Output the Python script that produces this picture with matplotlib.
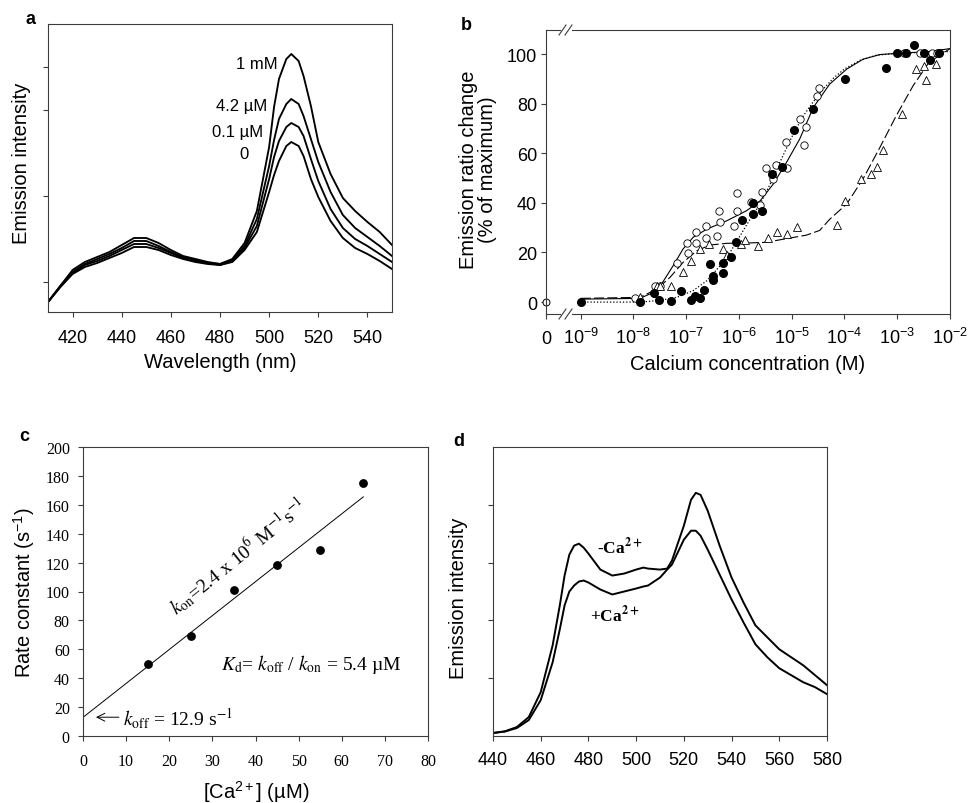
import numpy as np
import matplotlib
matplotlib.use("Agg")
import matplotlib.pyplot as plt
from matplotlib.lines import Line2D

W, H = 976, 804

# ---------------- panel a: emission spectra at several [Ca2+]
A_WL = [410, 415, 420, 425, 430, 435, 440, 445, 450, 455, 460, 465, 470, 475, 480,
        485, 490, 495, 500, 502, 504, 507, 509, 512, 514, 517, 520, 525, 530, 535,
        540, 545, 550]
A_CA_0 = [10, 25, 38, 45, 49, 54, 59, 65, 65, 62, 57, 53, 50, 48, 47,
          50, 62, 80, 120, 137, 151, 166, 170, 166, 156, 133, 115, 91, 74, 64,
          58, 51, 43]
A_CA_01UM = [10, 25, 39, 47, 51, 56, 62, 68, 68, 64, 59, 54, 51, 49, 47,
             51, 64, 86, 133, 155, 171, 185, 189, 185, 176, 153, 131, 103, 84, 73,
             66, 58, 50]
A_CA_42UM = [10, 26, 40, 48, 53, 58, 64, 71, 71, 66, 60, 55, 52, 49, 48,
             52, 66, 93, 146, 172, 193, 208, 213, 208, 196, 173, 150, 120, 97, 84,
             75, 66, 56]
A_CA_1MM = [10, 26, 42, 50, 55, 60, 67, 74, 74, 69, 62, 56, 53, 50, 48,
            53, 69, 101, 165, 205, 233, 253, 258, 251, 236, 206, 170, 138, 114, 101,
            90, 80, 67]
A_LABELS = ["0", "0.1 µM", "4.2 µM", "1 mM"]
A_LABEL_POS = [(491.8, 159), (497.5, 181), (499.1, 207), (503.6, 249)]
A_XTICKS = [420, 440, 460, 480, 500, 520, 540]
A_YTICKS = [30, 116, 202, 245]

# ---------------- panel b: titration (log10 of molar Ca2+)
B_XTICK_EXP = [-9, -8, -7, -6, -5, -4, -3, -2]
B_OPEN_LOGC = [-7.97, -7.59, -7.50, -7.18, -6.99, -6.97, -6.82, -6.82, -6.63, -6.63,
               -6.42, -6.37, -6.36, -6.03, -6.04, -6.10, -5.77, -5.57, -5.60, -5.49,
               -5.29, -5.35, -5.10, -5.09, -4.85, -4.77, -4.73, -4.52, -4.48, -2.87,
               -2.57, -2.34, -2.25]
B_OPEN_PCT = [1.5, 6.6, 6.6, 15.7, 23.8, 19.6, 28.1, 23.8, 30.8, 25.8,
              26.5, 36.8, 32.4, 43.9, 36.8, 30.8, 40.2, 44.5, 39.0, 54.0,
              55.2, 49.6, 64.6, 53.9, 73.7, 63.3, 70.4, 83.2, 86.5, 100.3,
              100.3, 100.3, 100.3]
B_OPEN_AT_ZERO = [0.0]
B_FILL_LOGC = [-9.0, -7.88, -7.62, -7.52, -7.28, -7.09, -6.90, -6.84, -6.74, -6.67,
               -6.54, -6.50, -6.49, -6.30, -6.30, -6.15, -6.06, -5.95, -5.73, -5.73,
               -5.56, -5.38, -5.19, -4.96, -4.59, -3.99, -3.22, -3.00, -2.83, -2.69,
               -2.50, -2.38, -2.21]
B_FILL_PCT = [0.1, 0.1, 3.6, 0.8, 0.5, 4.6, 0.8, 2.5, 1.5, 5.0,
              15.3, 10.4, 9.0, 15.7, 11.6, 18.3, 24.3, 33.2, 39.9, 35.7,
              36.8, 51.6, 54.3, 69.2, 77.8, 90.1, 94.3, 100.3, 100.3, 103.6,
              100.3, 97.5, 100.3]
B_TRI_LOGC = [-7.88, -7.55, -7.50, -7.28, -7.07, -6.90, -6.74, -6.56, -6.30, -6.23,
              -5.96, -5.89, -5.64, -5.45, -5.28, -5.09, -4.90, -4.15, -3.99, -3.69,
              -3.50, -3.38, -3.27, -2.91, -2.65, -2.49, -2.45, -2.26]
B_TRI_PCT = [1.9, 6.6, 6.6, 6.3, 12.2, 16.6, 21.6, 23.4, 21.6, 18.9,
             23.4, 25.1, 22.7, 25.7, 28.3, 27.4, 30.3, 31.0, 40.8, 49.6,
             51.6, 54.5, 61.3, 75.8, 93.9, 95.2, 89.5, 95.9]
B_FIT_SOLID_LOGC = [-9.0, -7.88, -7.62, -7.44, -7.25, -7.06, -6.87, -6.61, -6.23, -5.86,
                    -5.60, -5.35, -5.10, -4.85, -4.59, -4.28, -3.96, -3.65, -3.33, -3.00,
                    -2.40, -2.00]
B_FIT_SOLID_PCT = [1.2, 1.5, 3.9, 8.2, 14.6, 21.4, 26.1, 29.4, 32.8, 36.8,
                   40.8, 47.6, 56.3, 65.7, 78.5, 87.9, 93.9, 97.9, 99.8, 100.3,
                   101.0, 102.2]
B_FIT_DOT_LOGC = [-9.0, -7.88, -7.50, -7.18, -6.87, -6.61, -6.36, -6.17, -5.98, -5.79,
                  -5.60, -5.40, -5.20, -5.00, -4.80, -4.60, -4.40, -4.20, -4.00, -3.70,
                  -3.40, -3.00, -2.00]
B_FIT_DOT_PCT = [0.0, 0.0, 0.7, 1.9, 4.6, 8.6, 14.6, 20.0, 26.7, 33.4,
                 39.5, 48.0, 57.5, 66.5, 74.5, 80.5, 86.0, 90.5, 94.0, 97.5,
                 99.5, 100.3, 101.0]
B_FIT_DASH_LOGC = [-9.0, -7.88, -7.56, -7.31, -7.06, -6.80, -6.55, -6.23, -5.86, -5.49,
                   -5.12, -4.72, -4.47, -4.28, -3.96, -3.65, -3.33, -3.02, -2.70, -2.40,
                   -2.00]
B_FIT_DASH_PCT = [1.5, 1.9, 5.2, 9.9, 16.0, 20.7, 23.0, 23.7, 23.8, 24.1,
                  25.5, 27.0, 28.9, 33.4, 39.5, 49.6, 62.3, 75.1, 87.2, 96.6,
                  102.2]

# ---------------- panel c: observed rate constant vs [Ca2+]
C_CA = [15, 25, 35, 45, 55, 65]
C_RATE = [49.7, 68.9, 101.3, 118.4, 129.0, 175.0]
C_FIT_CA = [0, 65]
C_FIT_RATE = [12.9, 165.5]

# ---------------- panel d: spectra with / without Ca2+
D_WL = [440, 445, 450, 455, 460, 465, 468, 470, 472, 474, 476, 478, 480, 485, 490, 495,
        500, 503, 505, 510, 513, 515, 520, 523, 525, 527, 530, 535, 540, 545, 550,
        555, 560, 565, 570, 575, 580]
D_MINUS_CA = [3, 4.7, 9, 19, 44, 91, 131, 161, 182, 191, 193, 189, 183, 167, 161, 163,
              167, 169, 168, 167, 168, 176, 211, 237, 244, 242, 226, 191, 159, 134, 111,
              99, 87, 79, 71, 61, 51]
D_PLUS_CA = [3, 4.5, 8, 16, 36, 74, 107, 131, 145, 151, 155, 156, 154, 147, 142, 145,
             148, 150, 151, 159, 167, 172, 197, 206, 206, 201, 187, 162, 137, 114, 92,
             79, 68, 61, 54, 49, 42]
D_XTICKS = [440, 460, 480, 500, 520, 540, 560, 580]
D_YTICKS = [58, 116, 174, 232]

plt.rcParams["font.family"] = "Liberation Sans"
plt.rcParams["mathtext.fontset"] = "custom"
plt.rcParams["mathtext.rm"] = "Liberation Sans"
plt.rcParams["mathtext.it"] = "Liberation Sans:italic"
plt.rcParams["mathtext.bf"] = "Liberation Sans:bold"

SPINE = "#3c3c3c"
SERIF = "Liberation Serif"


def box(l, t, r, b):
    # pixel box -> figure fraction rect
    return [l / W, 1 - b / H, (r - l) / W, (b - t) / H]


def style(ax, size=13, pad=7):
    for s in ax.spines.values():
        s.set_color(SPINE)
        s.set_linewidth(0.8)
    ax.tick_params(direction="out", length=3.5, width=0.8, color=SPINE,
                   labelsize=size, pad=pad)


fig = plt.figure(figsize=(W / 100, H / 100), dpi=100)

# ---- a
ax = fig.add_axes(box(48, 25, 392, 313))
for ys in (A_CA_0, A_CA_01UM, A_CA_42UM, A_CA_1MM):
    ax.plot(A_WL, ys, color="k", lw=1.35)
for lbl, (x, y) in zip(A_LABELS, A_LABEL_POS):
    ax.text(x, y, lbl, ha="right", va="center", fontsize=12)
ax.set_xlim(410, 550)
ax.set_ylim(0, 288)
ax.set_xticks(A_XTICKS)
ax.set_yticks(A_YTICKS)
ax.set_yticklabels([])
style(ax, pad=9)
fig.text(22 / W, 1 - 163 / H, "Emission intensity", rotation=90,
         ha="center", va="center", fontsize=14.5)
fig.text(220 / W, 1 - 363 / H, "Wavelength (nm)", ha="center", va="center", fontsize=14.5)
fig.text(31 / W, 1 - 19 / H, "a", ha="center", va="center", fontsize=13, fontweight="bold")

# ---- b (broken x axis: zero, then log scale)
ylim_b = (-4.8, 109.7)
ax0 = fig.add_axes(box(546, 31, 560, 315))
ax0.plot([0], B_OPEN_AT_ZERO, "o", ms=5, mfc="white", mec="k", mew=0.7, clip_on=False)
ax0.set_xlim(0, 1)
ax0.set_ylim(*ylim_b)
ax0.set_xticks([0])
ax0.set_xticklabels(["0"])
ax0.set_yticks([0, 20, 40, 60, 80, 100])
ax0.spines["right"].set_visible(False)
style(ax0, pad=8)
ax0.tick_params(axis="y", pad=3)

ax1 = fig.add_axes(box(572, 31, 950, 315))
conc = lambda v: 10.0 ** np.asarray(v)
ax1.plot(conc(B_FIT_SOLID_LOGC), B_FIT_SOLID_PCT, color="k", lw=0.8)
ax1.plot(conc(B_FIT_DOT_LOGC), B_FIT_DOT_PCT, color="k", lw=0.9, ls=(0, (1, 1.6)))
ax1.plot(conc(B_FIT_DASH_LOGC), B_FIT_DASH_PCT, color="k", lw=0.8, ls=(0, (9, 3)))
ax1.plot(conc(B_OPEN_LOGC), B_OPEN_PCT, "o", ms=5.3, mfc="white", mec="k", mew=0.6,
         clip_on=False)
ax1.plot(conc(B_TRI_LOGC), B_TRI_PCT, "^", ms=5.3, mfc="white", mec="k", mew=0.6,
         clip_on=False)
ax1.plot(conc(B_FILL_LOGC), B_FILL_PCT, "o", ms=5.5, color="k", clip_on=False)
ax1.set_xscale("log")
ax1.set_xlim(10 ** -9.165, 1e-2)
ax1.set_ylim(*ylim_b)
ax1.set_xticks(conc(B_XTICK_EXP))
ax1.set_xticklabels([rf"$10^{{{e}}}$" for e in B_XTICK_EXP])
ax1.xaxis.set_minor_locator(matplotlib.ticker.NullLocator())
ax1.set_yticks([])
ax1.spines["left"].set_visible(False)
style(ax1, pad=6)

# break marks on the x axis line (top and bottom)
for xc in (562.5, 568.5):
    for yc in (31, 315):
        fig.add_artist(Line2D([(xc - 3.5) / W, (xc + 3.5) / W],
                              [1 - (yc + 5) / H, 1 - (yc - 5) / H],
                              color=SPINE, lw=0.8))

fig.text(478 / W, 1 - 170 / H, "Emission ratio change\n(% of maximum)", rotation=90,
         ha="center", va="center", fontsize=14.5, linespacing=1.0)
fig.text(748 / W, 1 - 365 / H, "Calcium concentration (M)", ha="center", va="center",
         fontsize=14.5)
fig.text(466 / W, 1 - 25 / H, "b", ha="center", va="center", fontsize=13, fontweight="bold")

# ---- c
ax = fig.add_axes(box(83, 448, 428, 737))
ax.plot(C_FIT_CA, C_FIT_RATE, color="k", lw=0.7)
ax.plot(C_CA, C_RATE, "o", ms=5.3, color="k", clip_on=False)
ax.set_xlim(0, 80)
ax.set_ylim(0, 200)
ax.set_xticks(range(0, 81, 10))
ax.set_yticks(range(0, 201, 20))
style(ax, size=11.5, pad=9)
ax.tick_params(axis="y", pad=6)
ax.tick_params(labelfontfamily=SERIF)
ax.text(36, 125, r"$k_{\rm on}$=2.4 x 10$^{6}$ M$^{-1}$s$^{-1}$", rotation=39,
        ha="center", va="center", fontsize=14, fontfamily=SERIF, math_fontfamily="stix")
ax.text(32, 50, r"$K_{\rm d}$= $k_{\rm off}$ / $k_{\rm on}$ = 5.4 µM", ha="left",
        va="center", fontsize=14, fontfamily=SERIF, math_fontfamily="stix")
ax.annotate(r"$k_{\rm off}$ = 12.9 s$^{-1}$", xy=(3, 13), xytext=(9.3, 13),
            ha="left", va="center", fontsize=14, fontfamily=SERIF, math_fontfamily="stix",
            arrowprops=dict(arrowstyle="->", lw=0.7, color="k", shrinkA=1, shrinkB=0))
fig.text(24 / W, 1 - 593 / H, r"Rate constant (s$^{-1}$)", rotation=90,
         ha="center", va="center", fontsize=14.5)
fig.text(256 / W, 1 - 792 / H, r"[Ca$^{2+}$] (µM)", ha="center", va="center",
         fontsize=14.5)
fig.text(24 / W, 1 - 437 / H, "c", ha="center", va="center", fontsize=13, fontweight="bold")

# ---- d
ax = fig.add_axes(box(493, 448, 827, 737))
ax.plot(D_WL, D_MINUS_CA, color="k", lw=1.4)
ax.plot(D_WL, D_PLUS_CA, color="k", lw=1.4)
ax.text(483.5, 190, r"-Ca$^{\mathbf{2+}}$", ha="left", va="center", fontsize=12.5,
        fontweight="bold", fontfamily=SERIF, math_fontfamily="stix")
ax.text(480.7, 122, r"+Ca$^{\mathbf{2+}}$", ha="left", va="center", fontsize=12.5,
        fontweight="bold", fontfamily=SERIF, math_fontfamily="stix")
ax.set_xlim(440, 580)
ax.set_ylim(0, 290)
ax.set_xticks(D_XTICKS)
ax.set_yticks(D_YTICKS)
ax.set_yticklabels([])
style(ax, pad=7)
fig.text(459 / W, 1 - 598 / H, "Emission intensity", rotation=90,
         ha="center", va="center", fontsize=14.5)
fig.text(459 / W, 1 - 442 / H, "d", ha="center", va="center", fontsize=13, fontweight="bold")

fig.savefig("out.png", dpi=100)
